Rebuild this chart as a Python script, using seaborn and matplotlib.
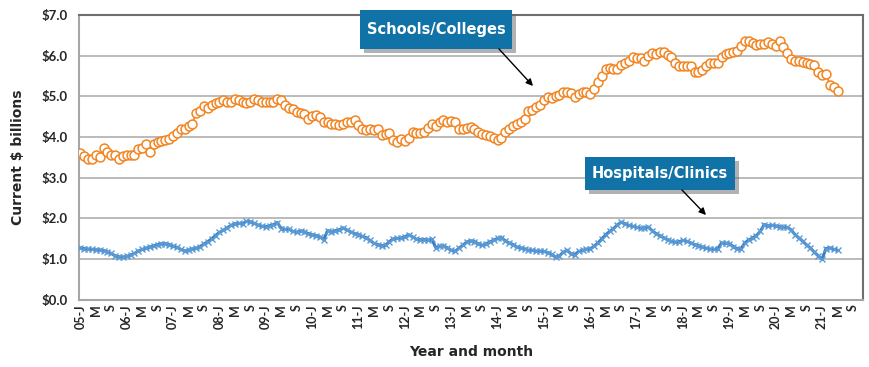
import numpy as np
import pandas as pd
import matplotlib
matplotlib.use("Agg")
import matplotlib.pyplot as plt
import matplotlib.patheffects as pe
from matplotlib.patches import Rectangle, FancyArrowPatch
import seaborn as sns

# monthly values, Jan 2005 .. May 2021 (current $ billions)
schools_colleges = [
    3.61, 3.53, 3.47, 3.47, 3.55, 3.50, 3.72, 3.63, 3.55, 3.56, 3.46, 3.53,
    3.55, 3.57, 3.57, 3.71, 3.73, 3.84, 3.63, 3.82, 3.87, 3.90, 3.92, 3.96,
    4.02, 4.09, 4.21, 4.20, 4.27, 4.33, 4.60, 4.65, 4.76, 4.72, 4.78, 4.83,
    4.87, 4.90, 4.87, 4.87, 4.94, 4.90, 4.86, 4.85, 4.86, 4.94, 4.90, 4.87,
    4.86, 4.87, 4.86, 4.93, 4.91, 4.78, 4.71, 4.70, 4.62, 4.60, 4.58, 4.44,
    4.52, 4.54, 4.50, 4.37, 4.36, 4.33, 4.31, 4.29, 4.33, 4.36, 4.37, 4.42,
    4.29, 4.21, 4.17, 4.19, 4.17, 4.19, 4.05, 4.07, 4.09, 3.93, 3.89, 3.96,
    3.90, 3.98, 4.13, 4.11, 4.11, 4.13, 4.23, 4.33, 4.27, 4.36, 4.41, 4.36,
    4.40, 4.37, 4.21, 4.19, 4.23, 4.25, 4.19, 4.12, 4.08, 4.04, 4.02, 3.97,
    3.94, 3.98, 4.13, 4.21, 4.27, 4.33, 4.38, 4.45, 4.63, 4.67, 4.73, 4.79,
    4.91, 4.98, 4.96, 5.02, 5.04, 5.10, 5.10, 5.08, 4.98, 5.07, 5.10, 5.10,
    5.07, 5.18, 5.35, 5.51, 5.68, 5.69, 5.68, 5.68, 5.78, 5.82, 5.87, 5.96,
    5.94, 5.95, 5.88, 6.00, 6.07, 6.05, 6.09, 6.10, 6.02, 5.98, 5.81, 5.74,
    5.74, 5.74, 5.74, 5.59, 5.60, 5.65, 5.75, 5.82, 5.82, 5.81, 5.96, 6.04,
    6.06, 6.09, 6.12, 6.25, 6.36, 6.35, 6.32, 6.27, 6.28, 6.29, 6.33, 6.28,
    6.25, 6.36, 6.21, 6.07, 5.92, 5.88, 5.86, 5.84, 5.81, 5.80, 5.78, 5.60,
    5.53, 5.55, 5.29, 5.22, 5.13,
]
hospitals_clinics = [
    1.28, 1.26, 1.25, 1.24, 1.23, 1.23, 1.21, 1.18, 1.14, 1.08, 1.06, 1.05,
    1.07, 1.10, 1.14, 1.20, 1.24, 1.27, 1.30, 1.33, 1.36, 1.38, 1.38, 1.36,
    1.32, 1.29, 1.24, 1.20, 1.22, 1.25, 1.27, 1.31, 1.37, 1.43, 1.50, 1.58,
    1.66, 1.71, 1.77, 1.83, 1.87, 1.88, 1.87, 1.93, 1.92, 1.88, 1.84, 1.81,
    1.80, 1.82, 1.85, 1.90, 1.75, 1.73, 1.74, 1.68, 1.66, 1.70, 1.67, 1.63,
    1.60, 1.58, 1.55, 1.48, 1.70, 1.67, 1.70, 1.72, 1.77, 1.72, 1.67, 1.63,
    1.60, 1.56, 1.53, 1.46, 1.39, 1.36, 1.33, 1.34, 1.43, 1.50, 1.51, 1.52,
    1.55, 1.60, 1.55, 1.49, 1.48, 1.48, 1.47, 1.49, 1.28, 1.32, 1.33, 1.28,
    1.22, 1.19, 1.27, 1.34, 1.42, 1.45, 1.43, 1.38, 1.34, 1.38, 1.42, 1.47,
    1.51, 1.53, 1.45, 1.40, 1.36, 1.30, 1.28, 1.25, 1.22, 1.22, 1.20, 1.20,
    1.19, 1.16, 1.12, 1.05, 1.08, 1.17, 1.22, 1.13, 1.11, 1.19, 1.22, 1.24,
    1.25, 1.32, 1.40, 1.50, 1.60, 1.68, 1.75, 1.84, 1.91, 1.87, 1.83, 1.81,
    1.78, 1.76, 1.77, 1.79, 1.70, 1.63, 1.58, 1.53, 1.48, 1.44, 1.42, 1.43,
    1.46, 1.44, 1.40, 1.36, 1.33, 1.30, 1.27, 1.25, 1.24, 1.26, 1.40, 1.39,
    1.38, 1.31, 1.26, 1.25, 1.40, 1.47, 1.52, 1.58, 1.68, 1.85, 1.82, 1.83,
    1.82, 1.80, 1.79, 1.78, 1.72, 1.60, 1.52, 1.44, 1.35, 1.27, 1.17, 1.08,
    1.00, 1.26, 1.28, 1.24, 1.22,
]
first_year = 2005
last_year = 2021
tick_months = ["J", "M", "S"]

ORANGE = "#F28522"
BLUE = "#3A7DC0"
BOX = "#1172A8"
H = 367  # figure height in px, callouts are placed in figure pixels

months = np.arange(len(schools_colleges))
df = pd.DataFrame({"month": months,
                   "schools": schools_colleges,
                   "hospitals": hospitals_clinics})

sns.set_style("white")
plt.rcParams["font.family"] = ["Lato", "DejaVu Sans"]

fig = plt.figure(figsize=(8.7, 3.67), dpi=100)
ax = fig.add_axes([0.091, 0.183, 0.901, 0.776])

sns.lineplot(data=df, x="month", y="hospitals", ax=ax, color=BLUE, linewidth=2.2,
             marker="x", markersize=4.5, markeredgewidth=1.0, markeredgecolor="#5B9BD5",
             zorder=3)
sns.lineplot(data=df, x="month", y="schools", ax=ax, color=ORANGE, linewidth=1.2,
             marker="o", markersize=6.4, markerfacecolor="white", markeredgecolor=ORANGE,
             markeredgewidth=1.1, zorder=4)

ax.set_ylim(0, 7)
ax.set_yticks(np.arange(0, 7.01, 1.0))
ax.set_yticklabels([f"${v:.1f}" for v in np.arange(0, 7.01, 1.0)],
                   fontsize=9.5, fontweight="bold", color="#262626")
ax.yaxis.grid(True, color="#B5B5B5", linewidth=1.3)
ax.set_axisbelow(True)

tick_pos = np.arange(0, (last_year - first_year) * 12 + 9, 4)
tick_lab = []
for p in tick_pos:
    m = p % 12
    lab = tick_months[m // 4]
    if m == 0:
        lab = f"{(first_year + p // 12) % 100:02d}-J"
    tick_lab.append(lab)
ax.set_xticks(tick_pos)
ax.set_xticklabels(tick_lab, rotation=90, fontsize=9, fontweight="bold", color="#262626")
ax.set_xlim(-0.3, 202.6)
ax.tick_params(axis="x", length=0, pad=3)
ax.tick_params(axis="y", length=0, pad=8)

ax.set_xlabel("Year and month", fontsize=10, fontweight="bold", labelpad=12,
              family="DejaVu Sans")
ax.set_ylabel("Current $ billions", fontsize=10, fontweight="bold", labelpad=12,
              family="DejaVu Sans")

for side in ["left", "bottom"]:
    ax.spines[side].set_color("#A6A6A6")
    ax.spines[side].set_linewidth(1.5)
for side in ["top", "right"]:
    ax.spines[side].set_color("#6E6E6E")
    ax.spines[side].set_linewidth(1.5)


def callout(text, box, start, end):
    # box = (left, top, right, bottom) in px from the top-left corner
    l, t, r, b = box
    rect = Rectangle((l, H - b), r - l, b - t, transform=None, fc=BOX, ec="none",
                     zorder=10)
    rect.set_path_effects([pe.SimplePatchShadow(offset=(3, -3), shadow_rgbFace="#666666",
                                                alpha=0.5), pe.Normal()])
    fig.add_artist(rect)
    fig.text((l + r) / 2 / 870, (H - (t + b) / 2) / H, text, ha="center", va="center",
             fontsize=10.5, fontweight="bold", color="white", family="DejaVu Sans",
             zorder=11)
    arr = FancyArrowPatch((start[0], H - start[1]), (end[0], H - end[1]), transform=None,
                          arrowstyle="-|>", mutation_scale=10, color="black", lw=1.0,
                          shrinkA=0, shrinkB=0, zorder=11)
    fig.add_artist(arr)


callout("Schools/Colleges", (360, 10, 512, 49), (499, 49), (533, 86))
callout("Hospitals/Clinics", (585, 157, 735, 190), (682, 190), (706, 215))

fig.savefig("out.png", dpi=100)
